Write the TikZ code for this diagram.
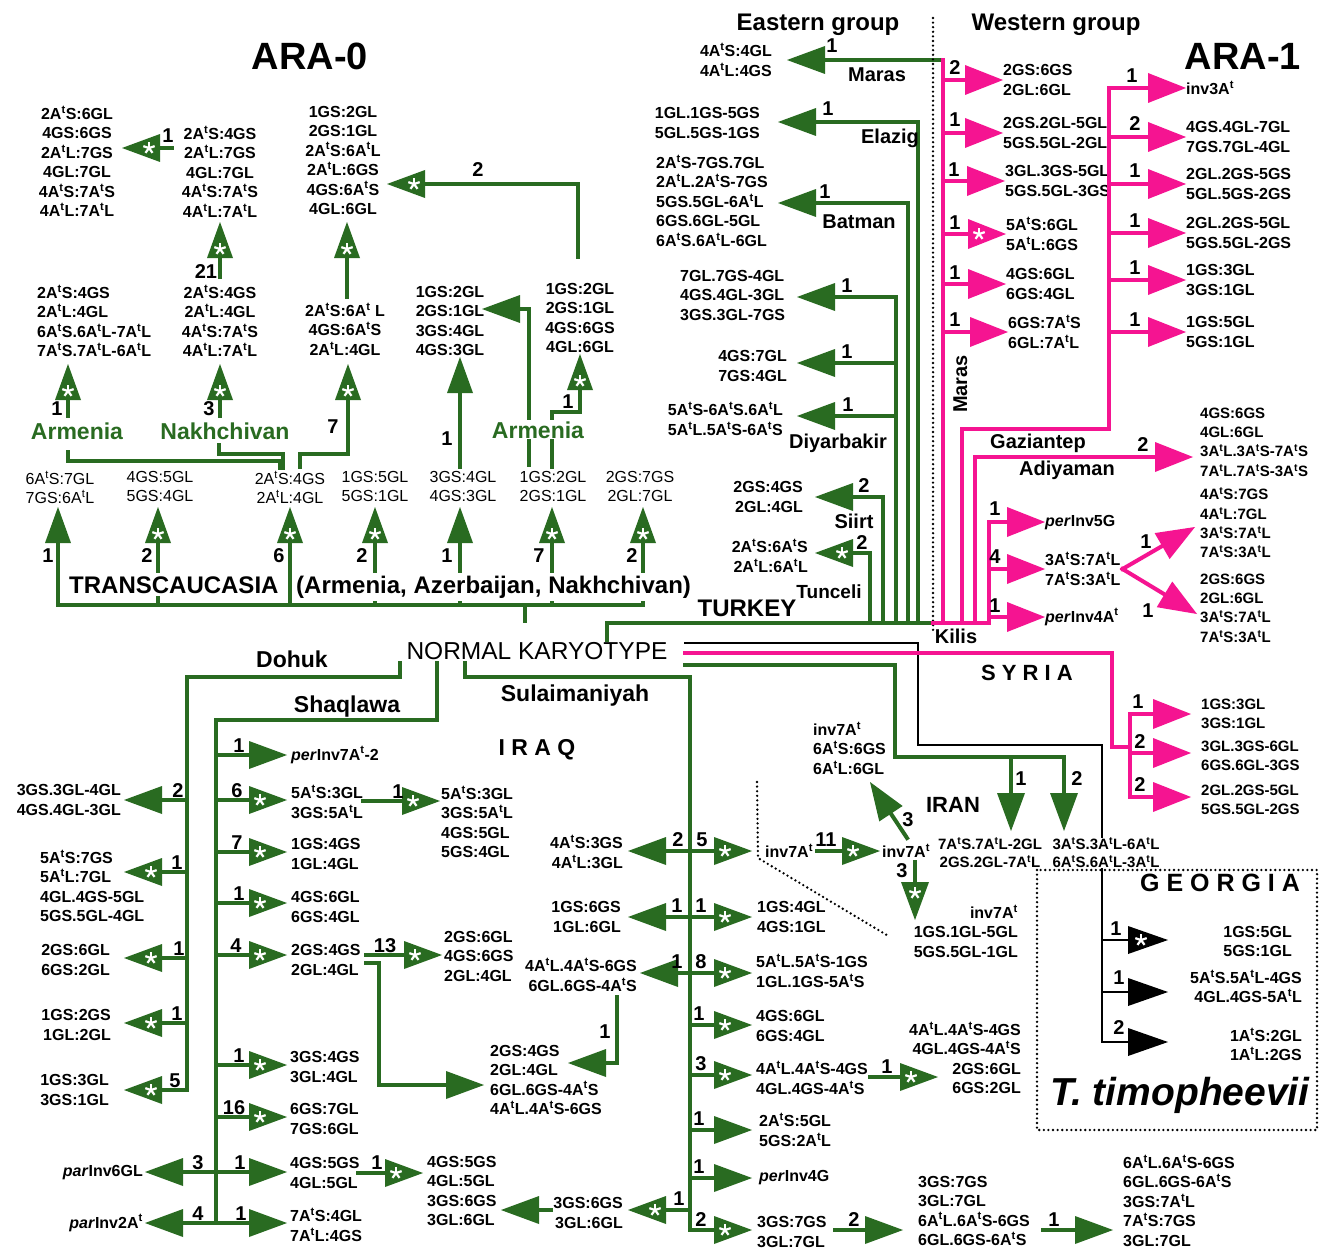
\documentclass[tikz,border=0pt]{standalone}
\usepackage{fontspec}
\setmainfont{Liberation Sans}
\usetikzlibrary{arrows.meta,calc}
\definecolor{gr}{RGB}{41,107,33}
\definecolor{mg}{RGB}{245,20,145}
\newcommand\At{A\textsuperscript{t}}
\newcommand\per{\textit{per}}
\newcommand\parI{\textit{par}}
\newcounter{nn}
\newcommand\nlab[3]{\stepcounter{nn}\node[lb] (lb\thenn) at (#1,#2) {#3};}
\newcommand\st[2]{\pic at (#1,#2) {astk};}
\tikzset{
  tb/.style={font=\bfseries\fontsize{16}{19.5}\selectfont, inner sep=0pt, execute at begin node={\rule{0pt}{13pt}}},
  tbn/.style={tb, align=center, anchor=north, yshift=7.3pt},
  tbnw/.style={tb, align=left, anchor=north west, yshift=7.3pt},
  tbne/.style={tb, align=right, anchor=north east, yshift=7.3pt},
  tbw/.style={tb, align=left, anchor=west},
  tbe/.style={tb, align=right, anchor=east},
  tr/.style={tbn, font=\mdseries\fontsize{16}{19.5}\selectfont},
  sm/.style={font=\bfseries\fontsize{15}{19.3}\selectfont},
  lb/.style={font=\bfseries\fontsize{20}{20}\selectfont, inner sep=0pt, anchor=base},
  rg/.style={font=\bfseries\fontsize{20}{20}\selectfont, inner sep=0pt, anchor=base},
  big/.style={font=\bfseries\fontsize{23}{23}\selectfont, inner sep=0pt, anchor=base},
  ln/.style={draw=gr, line width=4pt, line cap=rect},
  ga/.style={ln, -{Triangle[length=38pt,width=28pt,line width=0pt]}},
  gu/.style={ln, -{Triangle[length=36pt,width=26pt,line width=0pt]}},
  pl/.style={draw=mg, line width=4pt, line cap=rect},
  pa/.style={pl, -{Triangle[length=38pt,width=30pt,line width=0pt]}},
  kl/.style={draw=black, line width=2.5pt, line cap=rect},
  ka/.style={kl, -{Triangle[length=40pt,width=28pt,line width=0pt]}},
  dots/.style={draw=black, line width=2.6pt, line cap=round, dash pattern=on 0pt off 4.6pt},
  astk/.pic={\foreach \a in {90,162,234,306,18} \draw[white,line width=2.2pt] (0,0)--(\a:6pt);},
}
\begin{document}
\begin{tikzpicture}[x=1pt,y=-1pt]
\fill[white] (0,0) rectangle (1321,1252);
\useasboundingbox (0,0) rectangle (1321,1252);

% ---------------- titles
\node[font=\bfseries\fontsize{38}{38}\selectfont, inner sep=0pt, anchor=base] (ara0) at (310,70) {ARA-0};
\node[font=\bfseries\fontsize{38}{38}\selectfont, inner sep=0pt, anchor=base] (ara1) at (1243,70) {ARA-1};
\node[font=\bfseries\fontsize{24}{24}\selectfont, inner sep=0pt, anchor=base] (eastg) at (818,31) {Eastern group};
\node[font=\bfseries\fontsize{24}{24}\selectfont, inner sep=0pt, anchor=base] (westg) at (1056,31) {Western group};

% ---------------- ARA-0 upper blocks
\node[tbn] (a1) at (77,113) {2\At S:6GL\\4GS:6GS\\2\At L:7GS\\4GL:7GL\\4\At S:7\At S\\4\At L:7\At L};
\node[tbn] (a2) at (220,133) {2\At S:4GS\\2\At L:7GS\\4GL:7GL\\4\At S:7\At S\\4\At L:7\At L};
\node[tbn] (a3) at (220,292) {2\At S:4GS\\2\At L:4GL\\4\At S:7\At S\\4\At L:7\At L};
\node[tbnw] (a4) at (37,292) {2\At S:4GS\\2\At L:4GL\\6\At S.6\At L-7\At L\\7\At S.7\At L-6\At L};
\node[tbn] (a5) at (345,310) {2\At S:6A\textsuperscript{t} L\\4GS:6\At S\\2\At L:4GL};
\node[tbn] (a6) at (343,113) {1GS:2GL\\2GS:1GL\\2\At S:6\At L\\2\At L:6GS\\4GS:6\At S\\4GL:6GL};
\node[tbn] (a7) at (450,293) {1GS:2GL\\2GS:1GL\\3GS:4GL\\4GS:3GL};
\node[tbn] (a8) at (580,290) {1GS:2GL\\2GS:1GL\\4GS:6GS\\4GL:6GL};

\draw[ga] (172,148) -- (122,148); \st{149}{148} \nlab{168}{143}{1}
\draw[gu] (220,277) -- (220,222); \st{220}{249} \nlab{206}{278}{21}
\draw[gu] (347,297) -- (347,222); \st{347}{249}
\draw[ga] (578,257) -- (578,184) -- (387,184); \st{414}{184} \nlab{478}{177}{2}
\draw[ga] (529,465) -- (529,309) -- (482,309);
\draw[gu] (460,467) -- (460,357); \nlab{447}{445}{1}
\draw[gu] (552,467) -- (552,412) -- (580,412) -- (580,354); \st{580}{381} \nlab{568}{408}{1}
\draw[gu] (68,416) -- (68,364); \st{68}{391} \nlab{57}{415}{1}
\draw[gu] (220,416) -- (220,364); \st{220}{391} \nlab{209}{415}{3}
\draw[gu] (300,467) -- (300,454) -- (348,454) -- (348,364); \st{348}{391} \nlab{333}{433}{7}
\draw[ln] (280,468) -- (280,461) -- (68,461) -- (68,452);
\draw[ln] (283,468) -- (283,454) -- (219,454) -- (219,445);

% ---------------- Transcaucasia row
\node[tr] (t1) at (60,478) {6\At S:7GL\\7GS:6\At L};
\node[tr] (t2) at (160,478) {4GS:5GL\\5GS:4GL};
\node[tr] (t3) at (290,478) {2\At S:4GS\\2\At L:4GL};
\node[tr] (t4) at (375,478) {1GS:5GL\\5GS:1GL};
\node[tr] (t5) at (463,478) {3GS:4GL\\4GS:3GL};
\node[tr] (t6) at (553,478) {1GS:2GL\\2GS:1GL};
\node[tr] (t7) at (640,478) {2GS:7GS\\2GL:7GL};
\draw[ln] (58,605) -- (643,605);
\draw[gu] (58,605) -- (58,507); \nlab{48}{562}{1}
\draw[gu] (158,605) -- (158,507); \st{158}{534} \nlab{147}{562}{2}
\draw[gu] (290,605) -- (290,507); \st{290}{534} \nlab{279}{562}{6}
\draw[gu] (375,605) -- (375,507); \st{375}{534} \nlab{362}{562}{2}
\draw[gu] (460,605) -- (460,507); \nlab{447}{562}{1}
\draw[gu] (552,605) -- (552,507); \st{552}{534} \nlab{539}{562}{7}
\draw[gu] (643,605) -- (643,507); \st{643}{534} \nlab{632}{562}{2}
\draw[ln] (525,605) -- (525,621);
\node[font=\bfseries\fontsize{24}{24}\selectfont, fill=white, inner xsep=1pt, inner ysep=3pt, anchor=base west] (tc1) at (68,593) {TRANSCAUCASIA};
\node[font=\bfseries\fontsize{24}{24}\selectfont, fill=white, inner xsep=1pt, inner ysep=3pt, anchor=base west] (tc2) at (295,593) {(Armenia, Azerbaijan, Nakhchivan)};
\node[big, text=gr] (arm1) at (77,439) {Armenia};
\node[big, text=gr] (nakh) at (225,439) {Nakhchivan};
\node[big, text=gr, fill=white, inner sep=1pt] (arm2) at (538,438) {Armenia};

% ---------------- Eastern group (Turkey)
\draw[ln] (607,640) -- (607,623) -- (933,623);
\draw[ga] (943,60) -- (787,60);
\node[tbe] (e1) at (772,60) {4\At S:4GL\\4\At L:4GS};
\nlab{832}{53}{1}
\node[rg] (maras1) at (877,82) {Maras};
\draw[ga] (918,623) -- (918,122) -- (778,122);
\node[tbe] (e2) at (760,123) {1GL.1GS-5GS\\5GL.5GS-1GS};
\nlab{828}{116}{1}
\node[rg] (elazig) at (890,144) {Elazig};
\draw[ga] (908,623) -- (908,203) -- (778,203);
\node[tbnw] (e3) at (656,162) {2\At S-7GS.7GL\\2\At L.2\At S-7GS\\5GS.5GL-6\At L\\6GS.6GL-5GL\\6\At S.6\At L-6GL};
\nlab{825}{198}{1}
\node[rg] (batman) at (859,228) {Batman};
\draw[ga] (896,623) -- (896,297) -- (797,297);
\node[tbnw] (e4) at (680,277) {7GL.7GS-4GL\\4GS.4GL-3GL\\3GS.3GL-7GS};
\nlab{847}{292}{1}
\draw[ga] (896,363) -- (797,363);
\node[tbe] (e5) at (787,366) {4GS:7GL\\7GS:4GL};
\nlab{847}{358}{1}
\draw[ga] (896,416) -- (797,416);
\node[tbe] (e6) at (783,419) {5\At S-6\At S.6\At L\\5\At L.5\At S-6\At S};
\nlab{848}{411}{1}
\node[rg] (diyar) at (838,448) {Diyarbakir};
\draw[ga] (883,623) -- (883,497) -- (815,497);
\node[tbe] (e7) at (803,497) {2GS:4GS\\2GL:4GL};
\nlab{864}{492}{2}
\node[rg] (siirt) at (854,528) {Siirt};
\draw[ga] (870,623) -- (870,553) -- (815,553); \st{842}{553}
\node[tbe] (e8) at (808,556) {2\At S:6\At S\\2\At L:6\At L};
\nlab{862}{549}{2}
\node[rg, font=\bfseries\fontsize{19}{19}\selectfont] (tunceli) at (829,598) {Tunceli};
\node[font=\bfseries\fontsize{24}{24}\selectfont, inner sep=0pt, anchor=base] (turkey) at (747,616) {TURKEY};
\draw[dots] (933,18) -- (933,633);

% ---------------- Western group
\draw[pl] (943,623) -- (943,60);
\node[tbw] (w1) at (1003,80) {2GS:6GS\\2GL:6GL};
\node[tbw] (w2) at (1003,133) {2GS.2GL-5GL\\5GS.5GL-2GL};
\node[tbw] (w3) at (1005,181) {3GL.3GS-5GL\\5GS.5GL-3GS};
\node[tbw] (w4) at (1006,234) {5\At S:6GL\\5\At L:6GS};
\node[tbw] (w5) at (1006,284) {4GS:6GL\\6GS:4GL};
\node[tbw] (w6) at (1008,332) {6GS:7\At S\\6GL:7\At L};
\draw[pa] (943,80) -- (w1.west); \nlab{955}{75}{2}
\draw[pa] (943,133) -- (w2.west); \nlab{955}{127}{1}
\draw[pa] (943,181) -- (w3.west); \nlab{954}{176}{1}
\draw[pa] (943,234) -- (w4.west); \st{979}{234} \nlab{955}{229}{1}
\draw[pa] (943,284) -- (w5.west); \nlab{955}{279}{1}
\draw[pa] (943,332) -- (w6.west); \nlab{955}{326}{1}

\draw[pl] (962,623) -- (962,429) -- (1109,429) -- (1109,88);
\node[tbw] (v1) at (1186,88) {inv3\At};
\node[tbw] (v2) at (1186,137) {4GS.4GL-7GL\\7GS.7GL-4GL};
\node[tbw] (v3) at (1186,184) {2GL.2GS-5GS\\5GL.5GS-2GS};
\node[tbw] (v4) at (1186,233) {2GL.2GS-5GL\\5GS.5GL-2GS};
\node[tbw] (v5) at (1186,280) {1GS:3GL\\3GS:1GL};
\node[tbw] (v6) at (1186,332) {1GS:5GL\\5GS:1GL};
\draw[pa] (1109,88) -- (v1.west); \nlab{1132}{83}{1}
\draw[pa] (1109,137) -- (v2.west); \nlab{1135}{131}{2}
\draw[pa] (1109,184) -- (v3.west); \nlab{1135}{178}{1}
\draw[pa] (1109,233) -- (v4.west); \nlab{1135}{227}{1}
\draw[pa] (1109,280) -- (v5.west); \nlab{1135}{274}{1}
\draw[pa] (1109,332) -- (v6.west); \nlab{1135}{326}{1}
\node[rg] (gazi) at (1038,448) {Gaziantep};
\node[rg, rotate=90] (maras2) at (967,384) {Maras};

\draw[pa] (975,623) -- (975,457) -- (1193,457); \nlab{1143}{451}{2}
\node[rg] (adiy) at (1067,475) {Adiyaman};
\node[tbnw, sm] (ad) at (1200,415) {4GS:6GS\\4GL:6GL\\3\At L.3\At S-7\At S\\7\At L.7\At S-3\At S};

\node[tbw] (k1) at (1045,522) {\per Inv5G};
\node[tbw] (k2) at (1045,569) {3\At S:7\At L\\7\At S:3\At L};
\node[tbw] (k3) at (1045,617) {\per Inv4\At};
\draw[pa] (989,623) -- (989,522) -- (k1.west); \nlab{995}{515}{1}
\draw[pa] (989,569) -- (k2.west); \nlab{995}{563}{4}
\draw[pa] (989,617) -- (k3.west); \nlab{995}{612}{1}
\draw[pa] ([xshift=2pt]k2.east) -- (1195,527); \nlab{1146}{548}{1}
\draw[pa] ([xshift=2pt]k2.east) -- (1197,614); \nlab{1148}{617}{1}
\node[tbnw, sm] (k4) at (1200,495) {4\At S:7GS\\4\At L:7GL\\3\At S:7\At L\\7\At S:3\At L};
\node[tbnw, sm] (k5) at (1200,581) {2GS:6GS\\2GL:6GL\\3\At S:7\At L\\7\At S:3\At L};
\draw[pl] (933,623) -- (989,623);
\node[rg] (kilis) at (956,643) {Kilis};

% ---------------- NORMAL KARYOTYPE and lines east
\node[font=\fontsize{24.5}{24.5}\selectfont, inner sep=0pt, anchor=base] (nk) at (537,659) {NORMAL KARYOTYPE};
\draw[kl] (685,643) -- (918,643) -- (918,745) -- (1102,745) -- (1102,1042);
\draw[pl] (685,653) -- (1112,653) -- (1112,747) -- (1130,747);
\draw[pl] (1130,714) -- (1130,797);
\draw[ln] (685,665) -- (895,665) -- (895,757) -- (1064,757);
\draw[ga] (1011,757) -- (1011,831); \nlab{1021}{785}{1}
\draw[ga] (1064,757) -- (1064,831); \nlab{1077}{785}{2}
\node[tbn, font=\bfseries\fontsize{15}{17.5}\selectfont] (i1) at (990,845) {7\At S.7\At L-2GL\\2GS.2GL-7\At L};
\node[tbn, font=\bfseries\fontsize{15}{17.5}\selectfont, fill=white] (i2) at (1106,845) {3\At S.3\At L-6\At L\\6\At S.6\At L-3\At L};
\node[font=\bfseries\fontsize{22}{22}\selectfont, inner sep=0pt, anchor=base] (iran) at (953,812) {IRAN};
\node[font=\bfseries\fontsize{22}{22}\selectfont, inner sep=0pt, anchor=base] (syria) at (1027,680) {S Y R I A};

\node[tbw, sm] (y1) at (1201,714) {1GS:3GL\\3GS:1GL};
\node[tbw, sm] (y2) at (1201,756) {3GL.3GS-6GL\\6GS.6GL-3GS};
\node[tbw, sm] (y3) at (1201,800) {2GL.2GS-5GL\\5GS.5GL-2GS};
\draw[pa] (1130,714) -- (1191,714); \nlab{1138}{708}{1}
\draw[pa] (1130,753) -- (1191,753); \nlab{1140}{748}{2}
\draw[pa] (1130,797) -- (1191,797); \nlab{1140}{791}{2}

% ---------------- Georgia
\draw[dots] (1037,870) rectangle (1317,1130);
\node[font=\bfseries\fontsize{25}{25}\selectfont, inner sep=2pt, fill=white, anchor=base] (geo) at (1220,891) {G E O R G I A};
\node[font=\bfseries\itshape\fontsize{39}{39}\selectfont, inner sep=0pt, anchor=base] (timo) at (1180,1105) {T. timopheevii};
\draw[ka] (1102,940) -- (1168,940); \st{1141}{940} \nlab{1116}{935}{1}
\draw[ka] (1102,992) -- (1168,992); \nlab{1119}{984}{1}
\draw[ka] (1102,1042) -- (1168,1042); \nlab{1119}{1034}{2}
\node[tbne] (g1) at (1292,933) {1GS:5GL\\5GS:1GL};
\node[tbne] (g2) at (1302,977) {5\At S.5\At L-4GS\\4GL.4GS-5\At L};
\node[tbne] (g3) at (1302,1035) {1\At S:2GL\\1\At L:2GS};

% ---------------- IRAQ: Dohuk
\node[big] (dohuk) at (292,667) {Dohuk};
\draw[ga] (400,663) -- (400,677) -- (187,677) -- (187,1090) -- (124,1090); \st{151}{1090} \nlab{175}{1087}{5}
\node[tbe] (d1) at (121,800) {3GS.3GL-4GL\\4GS.4GL-3GL};
\node[tbnw] (d2) at (40,857) {5\At S:7GS\\5\At L:7GL\\4GL.4GS-5GL\\5GS.5GL-4GL};
\node[tbe] (d3) at (110,960) {2GS:6GL\\6GS:2GL};
\node[tbe] (d4) at (111,1025) {1GS:2GS\\1GL:2GL};
\node[tbe] (d5) at (109,1090) {1GS:3GL\\3GS:1GL};
\draw[ga] (187,800) -- (124,800); \nlab{178}{797}{2}
\draw[ga] (187,872) -- (124,872); \st{151}{872} \nlab{177}{869}{1}
\draw[ga] (187,958) -- (124,958); \st{151}{958} \nlab{179}{955}{1}
\draw[ga] (187,1023) -- (124,1023); \st{151}{1023} \nlab{177}{1020}{1}

% ---------------- IRAQ: Shaqlawa
\node[big] (shaq) at (347,712) {Shaqlawa};
\draw[ln] (437,663) -- (437,720) -- (216,720) -- (216,1223);
\node[tbw] (s1) at (291,755) {\per Inv7\At-2};
\node[tbw] (s2) at (291,802) {5\At S:3GL\\3GS:5\At L};
\node[tbw] (s3) at (291,854) {1GS:4GS\\1GL:4GL};
\node[tbw] (s4) at (291,907) {4GS:6GL\\6GS:4GL};
\node[tbw] (s5) at (291,960) {2GS:4GS\\2GL:4GL};
\node[tbw] (s6) at (290,1067) {3GS:4GS\\3GL:4GL};
\node[tbw] (s7) at (290,1119) {6GS:7GL\\7GS:6GL};
\node[tbw] (s8) at (290,1173) {4GS:5GS\\4GL:5GL};
\node[tbw] (s9) at (290,1225) {7\At S:4GL\\7\At L:4GS};
\draw[ga] (216,755) -- (287,755); \nlab{239}{752}{1}
\draw[ga] (216,800) -- (287,800); \st{260}{800} \nlab{237}{797}{6}
\draw[ga] (216,852) -- (287,852); \st{260}{852} \nlab{237}{849}{7}
\draw[ga] (216,903) -- (287,903); \st{260}{903} \nlab{239}{900}{1}
\draw[ga] (216,955) -- (287,955); \st{260}{955} \nlab{236}{952}{4}
\draw[ga] (216,1065) -- (287,1065); \st{260}{1065} \nlab{239}{1062}{1}
\draw[ga] (216,1117) -- (287,1117); \st{260}{1117} \nlab{234}{1114}{16}
\draw[ga] (216,1172) -- (287,1172); \nlab{240}{1169}{1}
\draw[ga] (216,1223) -- (287,1223); \nlab{241}{1220}{1}
\draw[ga] (216,1172) -- (145,1172); \nlab{198}{1169}{3}
\draw[ga] (216,1223) -- (145,1223); \nlab{198}{1220}{4}
\node[tbe] (s10) at (143,1172) {\parI Inv6GL};
\node[tbe] (s11) at (143,1223) {\parI Inv2\At};

\node[tbnw] (s12) at (441,793) {5\At S:3GL\\3GS:5\At L\\4GS:5GL\\5GS:4GL};
\draw[ga] (363,801) -- (440,801); \st{413}{801} \nlab{398}{798}{1}
\node[tbnw] (s13) at (444,938) {2GS:6GL\\4GS:6GS\\2GL:4GL};
\draw[ga] (366,955) -- (442,955); \st{415}{955} \nlab{385}{952}{13}
\draw[ga] (366,963) -- (379,963) -- (379,1085) -- (484,1085);
\node[tbnw] (s14) at (490,1052) {2GS:4GS\\2GL:4GL\\6GL.6GS-4\At S\\4\At L.4\At S-6GS};
\node[tbe] (s15) at (637,975) {4\At L.4\At S-6GS\\6GL.6GS-4\At S};
\draw[ga] (617,997) -- (617,1063) -- (568,1063); \nlab{605}{1038}{1}
\node[tbnw] (s16) at (427,1163) {4GS:5GS\\4GL:5GL\\3GS:6GS\\3GL:6GL};
\draw[ga] (358,1173) -- (423,1173); \st{396}{1173} \nlab{377}{1169}{1}
\node[tbe] (s17) at (623,1213) {3GS:6GS\\3GL:6GL};
\draw[ga] (551,1210) -- (501,1210);

% ---------------- IRAQ: Sulaimaniyah
\node[big] (sulai) at (575,701) {Sulaimaniyah};
\node[big] (iraq) at (537,755) {I R A Q};
\draw[ga] (465,663) -- (465,677) -- (690,677) -- (690,1230) -- (752,1230); \st{725}{1230} \nlab{701}{1226}{2}
\draw[ga] (690,851) -- (628,851); \nlab{678}{846}{2}
\draw[ga] (690,851) -- (752,851); \st{725}{851} \nlab{702}{846}{5}
\draw[ga] (690,917) -- (628,917); \nlab{677}{912}{1}
\draw[ga] (690,917) -- (752,917); \st{725}{917} \nlab{701}{912}{1}
\draw[ga] (690,973) -- (640,973); \nlab{677}{968}{1}
\draw[ga] (690,973) -- (752,973); \st{725}{973} \nlab{701}{968}{8}
\draw[ga] (690,1025) -- (752,1025); \st{725}{1025} \nlab{699}{1020}{1}
\draw[ga] (690,1075) -- (752,1075); \st{725}{1075} \nlab{701}{1070}{3}
\draw[ga] (690,1130) -- (752,1130); \nlab{699}{1125}{1}
\draw[ga] (690,1178) -- (752,1178); \nlab{699}{1173}{1}
\draw[ga] (690,1210) -- (628,1210); \st{655}{1210} \nlab{679}{1205}{1}
\node[tbe] (u1) at (623,852) {4\At S:3GS\\4\At L:3GL};
\node[tbe] (u2) at (621,917) {1GS:6GS\\1GL:6GL};
\node[tbw] (u3) at (765,851) {inv7\At};
\draw[ga] (817,851) -- (880,851); \st{853}{851} \nlab{826}{846}{11}
\node[tbw] (u4) at (882,851) {inv7\At};
\draw[ga] (907,838) -- (870,782); \nlab{908}{826}{3}
\draw[ga] (915,862) -- (915,920); \st{915}{893} \nlab{902}{877}{3}
\node[tbnw] (u5) at (813,729) {inv7\At\\6\At S:6GS\\6\At L:6GL};
\node[tbne] (u6) at (1018,912) {inv7\At\\1GS.1GL-5GL\\5GS.5GL-1GL};
\draw[dots] (757,782) -- (758,858) -- (890,937);
\node[tbw] (u7) at (757,917) {1GS:4GL\\4GS:1GL};
\node[tbw] (u8) at (756,971) {5\At L.5\At S-1GS\\1GL.1GS-5\At S};
\node[tbw] (u9) at (756,1026) {4GS:6GL\\6GS:4GL};
\node[tbw] (u10) at (756,1078) {4\At L.4\At S-4GS\\4GL.4GS-4\At S};
\draw[ga] (870,1077) -- (938,1077); \st{911}{1077} \nlab{887}{1073}{1}
\node[tbne] (u11) at (1021,1029) {4\At L.4\At S-4GS\\4GL.4GS-4\At S\\2GS:6GL\\6GS:2GL};
\node[tbw] (u12) at (759,1130) {2\At S:5GL\\5GS:2\At L};
\node[tbw] (u13) at (759,1177) {\per Inv4G};
\node[tbw] (u14) at (757,1232) {3GS:7GS\\3GL:7GL};
\draw[ga] (835,1230) -- (903,1230); \nlab{854}{1226}{2}
\node[tbnw] (u15) at (918,1183) {3GS:7GS\\3GL:7GL\\6\At L.6\At S-6GS\\6GL.6GS-6\At S};
\draw[ga] (1043,1230) -- (1113,1230); \nlab{1054}{1226}{1}
\node[tbnw] (u16) at (1123,1162) {6\At L.6\At S-6GS\\6GL.6GS-6\At S\\3GS:7\At L\\7\At S:7GS\\3GL:7GL};
\end{tikzpicture}
\end{document}
